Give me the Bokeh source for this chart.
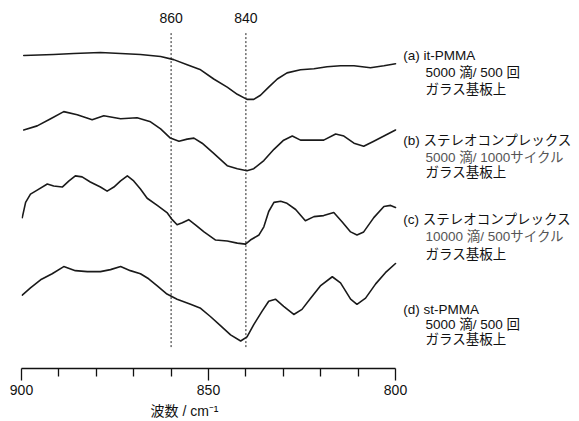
from bokeh.plotting import figure
from bokeh.models import Range1d, FixedTicker, Title
from bokeh.core.properties import value
from bokeh.embed import file_html
from bokeh.resources import INLINE

FONT = "'Liberation Sans', 'Noto Sans CJK JP', sans-serif"

# wavenumbers (cm-1) and intensities (arbitrary offset units)
wn_a = [899.4, 891.4, 886.0, 878.9, 873.5, 868.2, 862.8, 859.3, 855.7, 852.1, 848.6, 845.0, 842.3,
        839.7, 837.9, 836.1, 833.9, 831.6, 829.0, 825.4, 821.8, 818.3, 814.7, 811.1, 806.7, 803.1, 800.0]
ab_a = [3.07, 3.08, 3.09, 3.10, 3.09, 3.08, 3.06, 3.03, 2.98, 2.93, 2.84, 2.76, 2.69,
        2.64, 2.64, 2.68, 2.76, 2.84, 2.90, 2.93, 2.94, 2.96, 2.97, 2.97, 2.95, 2.97, 2.99]

wn_b = [899.4, 895.8, 892.2, 888.7, 885.1, 881.1, 878.0, 873.5, 869.1, 865.5, 862.8, 860.2, 857.9,
        855.7, 853.9, 851.7, 848.6, 845.0, 842.3, 839.7, 837.9, 835.2, 832.5, 829.9, 827.6, 825.4,
        821.8, 819.2, 816.0, 813.8, 811.1, 808.5, 805.8, 803.1, 800.0]
ab_b = [2.34, 2.38, 2.45, 2.52, 2.49, 2.44, 2.48, 2.45, 2.46, 2.42, 2.35, 2.26, 2.23,
        2.25, 2.26, 2.21, 2.11, 1.99, 1.96, 1.94, 1.96, 2.04, 2.15, 2.24, 2.28, 2.24,
        2.24, 2.24, 2.30, 2.28, 2.21, 2.18, 2.23, 2.28, 2.34]

wn_c = [899.8, 898.9, 897.6, 895.8, 893.1, 891.4, 889.1, 887.3, 885.6, 883.8, 881.6, 878.9, 877.1,
        875.3, 873.5, 871.7, 870.0, 868.2, 866.4, 863.7, 861.1, 859.7, 858.4, 857.0, 855.3, 853.5,
        851.2, 848.1, 845.0, 842.3, 840.1, 838.8, 836.5, 835.2, 833.9, 832.5, 830.7, 829.0, 826.7,
        824.1, 821.8, 819.2, 816.5, 814.3, 812.0, 810.3, 808.5, 805.8, 803.1, 801.3, 800.0]
ab_c = [1.48, 1.63, 1.71, 1.75, 1.81, 1.79, 1.78, 1.84, 1.89, 1.88, 1.83, 1.78, 1.74,
        1.78, 1.84, 1.89, 1.84, 1.76, 1.67, 1.60, 1.53, 1.46, 1.41, 1.43, 1.46, 1.41,
        1.34, 1.26, 1.25, 1.23, 1.22, 1.26, 1.31, 1.39, 1.54, 1.63, 1.64, 1.62, 1.56,
        1.45, 1.49, 1.50, 1.53, 1.44, 1.34, 1.31, 1.34, 1.48, 1.59, 1.60, 1.58]

wn_d = [899.8, 897.6, 894.9, 891.8, 888.7, 885.6, 882.4, 878.9, 876.2, 873.5, 870.9, 868.2, 866.0,
        863.7, 861.1, 858.4, 854.8, 852.1, 849.5, 846.8, 844.1, 841.4, 839.7, 837.9, 835.7, 833.9,
        832.1, 829.9, 827.2, 825.0, 822.7, 820.1, 816.9, 814.7, 812.0, 810.3, 808.0, 805.3, 802.7, 800.0]
ab_d = [0.72, 0.79, 0.87, 0.93, 1.00, 0.96, 0.95, 0.95, 0.97, 1.00, 0.96, 0.93, 0.88,
        0.81, 0.73, 0.68, 0.63, 0.59, 0.51, 0.42, 0.33, 0.27, 0.31, 0.43, 0.56, 0.66,
        0.68, 0.61, 0.53, 0.58, 0.69, 0.81, 0.90, 0.84, 0.68, 0.63, 0.69, 0.83, 0.94, 1.03]

marker_wn = [860, 840]
marker_labels = ["860", "840"]

label_a = ["(a) it-PMMA", "5000 滴/ 500 回", "ガラス基板上"]
label_b = ["(b) ステレオコンプレックス", "5000 滴/ 1000サイクル", "ガラス基板上"]
label_c = ["(c) ステレオコンプレックス", "10000 滴/ 500サイクル", "ガラス基板上"]
label_d = ["(d) st-PMMA", "5000 滴/ 500 回", "ガラス基板上"]

x_ticks = [900, 850, 800]
x_minor = [890, 880, 870, 860, 840, 830, 820, 810]
x_title = "波数 / cm⁻¹"

p = figure(width=579, height=421, output_backend="svg", toolbar_location=None,
           x_range=Range1d(900, 750.8), y_range=Range1d(0, 3.61),
           y_axis_location=None, min_border_left=21, min_border_right=0,
           min_border_top=0, min_border_bottom=20)
p.outline_line_color = None
p.xgrid.visible = False
p.ygrid.visible = False
p.background_fill_color = "white"
p.border_fill_color = "white"

for wn, ab in [(wn_a, ab_a), (wn_b, ab_b), (wn_c, ab_c), (wn_d, ab_d)]:
    p.line(wn, ab, line_color="#1a1a1a", line_width=1.6, line_join="round", line_cap="round")

p.segment(x0=marker_wn, y0=[0.21, 0.21], x1=marker_wn, y1=[3.29, 3.29],
          line_color="#222222", line_width=1, line_dash="2 2")
p.text(x=marker_wn, y=[3.44, 3.44], text=marker_labels, text_align="center",
       text_baseline="middle", text_font=value(FONT), text_font_size="14px", text_color="#111111")

x_first = 797.9
x_rest = 792.0
blocks = [(label_a, [3.075, 2.905, 2.74]), (label_b, [2.24, 2.07, 1.92]),
          (label_c, [1.46, 1.29, 1.12]), (label_d, [0.58, 0.43, 0.28])]
for i, (lines, ys) in enumerate(blocks):
    p.text(x=[x_first], y=[ys[0]], text=[lines[0]], text_baseline="middle",
           text_font=value(FONT), text_font_size="13.5px", text_color="#111111")
    c2 = "#555555" if i in (1, 2) else "#111111"
    p.text(x=[x_rest], y=[ys[1]], text=[lines[1]], text_baseline="middle",
           text_font=value(FONT), text_font_size="13.5px", text_color=c2)
    p.text(x=[x_rest], y=[ys[2]], text=[lines[2]], text_baseline="middle",
           text_font=value(FONT), text_font_size="13.5px", text_color="#111111")

ax = p.xaxis[0]
ax.bounds = (800, 900)
ax.ticker = FixedTicker(ticks=x_ticks, minor_ticks=x_minor)
ax.major_tick_in = 0
ax.major_tick_out = 12
ax.minor_tick_in = 0
ax.minor_tick_out = 8
ax.axis_line_color = "#111111"
ax.axis_line_width = 1.3
ax.major_tick_line_color = "#111111"
ax.major_tick_line_width = 1.3
ax.minor_tick_line_color = "#111111"
ax.minor_tick_line_width = 1.3
ax.major_label_text_font = FONT
ax.major_label_text_font_size = "14px"
ax.major_label_text_color = "#111111"
ax.major_label_standoff = 4

p.add_layout(Title(text=x_title, align="left", offset=129, text_font=FONT,
                   text_font_size="14px", text_font_style="normal",
                   text_color="#111111", standoff=6), "below")

open("out.html", "w").write(file_html(p, INLINE))
